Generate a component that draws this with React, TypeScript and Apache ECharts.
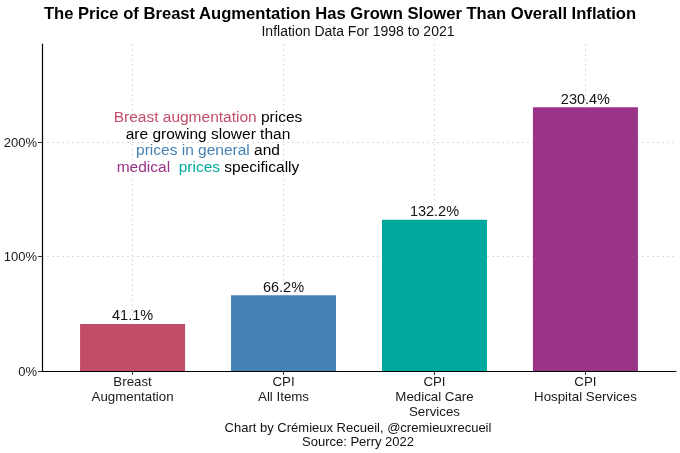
import React, { useEffect, useRef } from "react";
import * as echarts from "echarts";

const categories = [
  "Breast\nAugmentation",
  "CPI\nAll Items",
  "CPI\nMedical Care\nServices",
  "CPI\nHospital Services",
];
const values = [41.1, 66.2, 132.2, 230.4];
const barColors = ["#C24D68", "#4682B4", "#00A99D", "#993489"];
const positions = [1, 2, 3, 4];
const yTicks = [0, 100, 200];

const FONT = "Liberation Sans, Arial, sans-serif";
const GRID = { color: "#dcdcdc", type: [2, 3] as number[], width: 1 };

export default function App() {
  const ref = useRef<HTMLDivElement>(null);
  useEffect(() => {
    if (!ref.current) return;
    const chart = echarts.init(ref.current, undefined, { renderer: "svg" });
    chart.setOption({
      animation: false,
      textStyle: { fontFamily: FONT },
      grid: { left: 42, right: 4, top: 44, bottom: 82, containLabel: false },
      xAxis: {
        type: "value",
        min: 0.4,
        max: 4.6,
        axisLine: { show: true, lineStyle: { color: "#000", width: 1.2 } },
        axisTick: {
          show: true,
          customValues: positions,
          length: 4,
          lineStyle: { color: "#333" },
        },
        axisLabel: {
          customValues: positions,
          formatter: (v: number) => categories[Math.round(v) - 1] ?? "",
          color: "#1a1a1a",
          fontSize: 13.3,
          lineHeight: 15,
          margin: 3,
          fontFamily: FONT,
        },
        splitLine: { show: false },
      },
      yAxis: {
        type: "value",
        min: 0,
        max: 285.6,
        axisLine: { show: true, lineStyle: { color: "#000", width: 1.2 } },
        axisTick: {
          show: true,
          customValues: yTicks,
          length: 4,
          lineStyle: { color: "#333" },
        },
        axisLabel: {
          customValues: yTicks,
          formatter: (v: number) => v + "%",
          color: "#1a1a1a",
          fontSize: 13,
          margin: 5,
          fontFamily: FONT,
        },
        splitLine: { show: false },
      },
      series: [
        {
          type: "bar",
          barWidth: 105,
          data: values.map((v, i) => ({
            value: [positions[i], v],
            itemStyle: { color: barColors[i] },
          })),
          label: {
            show: true,
            position: "top",
            distance: 1,
            formatter: (p: any) => p.value[1].toFixed(1) + "%",
            color: "#111",
            fontSize: 14.5,
            fontFamily: FONT,
          },
          markLine: {
            silent: true,
            symbol: "none",
            label: { show: false },
            lineStyle: GRID,
            emphasis: { disabled: true },
            data: [
              ...positions.map((p) => ({ xAxis: p })),
              ...yTicks.filter((t) => t > 0).map((t) => ({ yAxis: t })),
            ],
            z: 0,
          },
          z: 2,
        },
      ],
      graphic: [
        {
          type: "text",
          x: 340,
          y: 13,
          style: {
            text: "The Price of Breast Augmentation Has Grown Slower Than Overall Inflation",
            fontSize: 16.6,
            fontWeight: "bold",
            fontFamily: FONT,
            fill: "#000",
            textAlign: "center",
            textVerticalAlign: "middle",
          },
        },
        {
          type: "text",
          x: 358,
          y: 31,
          style: {
            text: "Inflation Data For 1998 to 2021",
            fontSize: 14,
            fontFamily: FONT,
            fill: "#111",
            textAlign: "center",
            textVerticalAlign: "middle",
          },
        },
        {
          type: "text",
          x: 208,
          y: 141.5,
          z: 10,
          style: {
            text:
              "{r|Breast augmentation} prices\nare growing slower than\n{b|prices in general} and\n{p|medical}  {t|prices} specifically",
            fontSize: 15.5,
            lineHeight: 16.8,
            fontFamily: FONT,
            fill: "#000",
            textAlign: "center",
            textVerticalAlign: "middle",
            rich: {
              r: { fill: "#C24D68", fontSize: 15.5, fontFamily: FONT, lineHeight: 16.8 },
              b: { fill: "#4682B4", fontSize: 15.5, fontFamily: FONT, lineHeight: 16.8 },
              p: { fill: "#993489", fontSize: 15.5, fontFamily: FONT, lineHeight: 16.8 },
              t: { fill: "#00A99D", fontSize: 15.5, fontFamily: FONT, lineHeight: 16.8 },
            },
          },
        },
        {
          type: "text",
          x: 358,
          y: 434.5,
          style: {
            text: "Chart by Crémieux Recueil, @cremieuxrecueil\nSource: Perry 2022",
            fontSize: 13,
            lineHeight: 14.5,
            fontFamily: FONT,
            fill: "#111",
            textAlign: "center",
            textVerticalAlign: "middle",
          },
        },
      ],
    });
    return () => chart.dispose();
  }, []);
  return (
    <div
      ref={ref}
      style={{ position: "fixed", left: 0, top: 0, width: 680, height: 453 }}
    />
  );
}
